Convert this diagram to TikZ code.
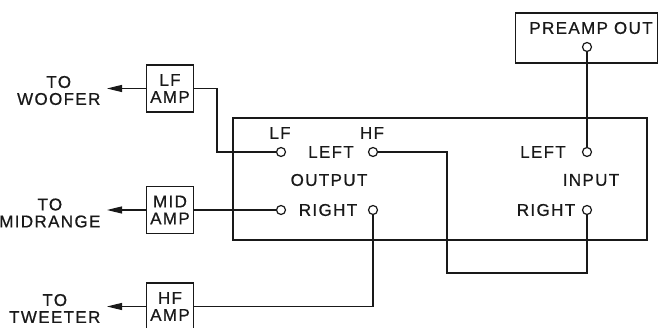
\documentclass[tikz,border=0pt]{standalone}
\usepackage{fontspec}
\setmainfont{Liberation Sans}[LetterSpace=8, FakeBold=0.7]
\usetikzlibrary{arrows.meta}
\definecolor{ink}{gray}{0.1}
\begin{document}
\begin{tikzpicture}[x=1pt,y=-1pt,
  line width=1.2pt,
  color=ink,
  lbl/.style={font=\fontsize{17}{17}\selectfont, inner sep=0pt, text=ink, align=center},
  ampbox/.style={draw=ink, minimum width=47pt, minimum height=47pt, inner sep=0pt, align=center, text=ink, font=\fontsize{17}{17}\selectfont},
  frame/.style={draw=ink, inner sep=0pt},
  jack/.style={circle, draw=ink, minimum size=9pt, inner sep=0pt},
  arr/.style={-{Triangle[length=15pt,width=7pt]}},
  ]
\useasboundingbox (0,0) rectangle (659,328);
\clip (0,0) rectangle (659,328);

% main and preamp boxes
\node[frame, minimum width=414pt, minimum height=122pt] (main) at (440,179) {};
\node[frame, minimum width=142pt, minimum height=50pt] (preamp) at (586.5,38) {};
\node[lbl] (preamptxt) at (591,28) {PREAMP\hspace{6pt}OUT};

% amplifier boxes
\node[ampbox] (lfamp) at (170,88.5) {LF\\AMP};
\node[ampbox] (midamp) at (170,210) {MID\\AMP};
\node[ampbox] (hfamp) at (170,306.5) {HF\\AMP};

% speaker labels
\node[lbl, anchor=east] (woofer) at (101,90.5) {TO\\WOOFER};
\node[lbl, anchor=east] (midrange) at (101,213) {TO\\MIDRANGE};
\node[lbl, anchor=east] (tweeter) at (101,308.5) {TO\\TWEETER};
\coordinate (wooferend) at (107,88.5);
\coordinate (midend) at (107,210);
\coordinate (tweeterend) at (107,306.5);

% jacks
\node[jack] (lfjack) at (281,152) {};
\node[jack] (hfleft) at (373,152) {};
\node[jack] (midjack) at (281,210) {};
\node[jack] (hfright) at (373,210) {};
\node[jack] (inleft) at (587,152) {};
\node[jack] (inright) at (587,210) {};
\node[jack] (prejack) at (587,47) {};

% labels inside
\node[lbl] (lflbl) at (280,133) {LF};
\node[lbl] (hflbl) at (372,133) {HF};
\node[lbl] (outleft) at (331,152) {LEFT};
\node[lbl] (outlbl) at (329,180) {OUTPUT};
\node[lbl] (outright) at (328,210) {RIGHT};
\node[lbl] (inleftlbl) at (543,152) {LEFT};
\node[lbl] (inlbl) at (591,180) {INPUT};
\node[lbl] (inrightlbl) at (546,210) {RIGHT};

% arrows to speakers
\draw[arr] (lfamp.west) -- (wooferend);
\draw[arr] (midamp.west) -- (midend);
\draw[arr] (hfamp.west) -- (tweeterend);

% connections
\draw (lfamp.east) -- (217,88.5) -- (217,152) -- (lfjack.west);
\draw (midamp.east) -- (midjack.west);
\draw (hfamp.east) -| (hfright.south);
\draw (hfleft.east) -- (447,152) -- (447,273) -| (inright.south);
\draw (inleft.north) -- (prejack.south);
\end{tikzpicture}
\end{document}
